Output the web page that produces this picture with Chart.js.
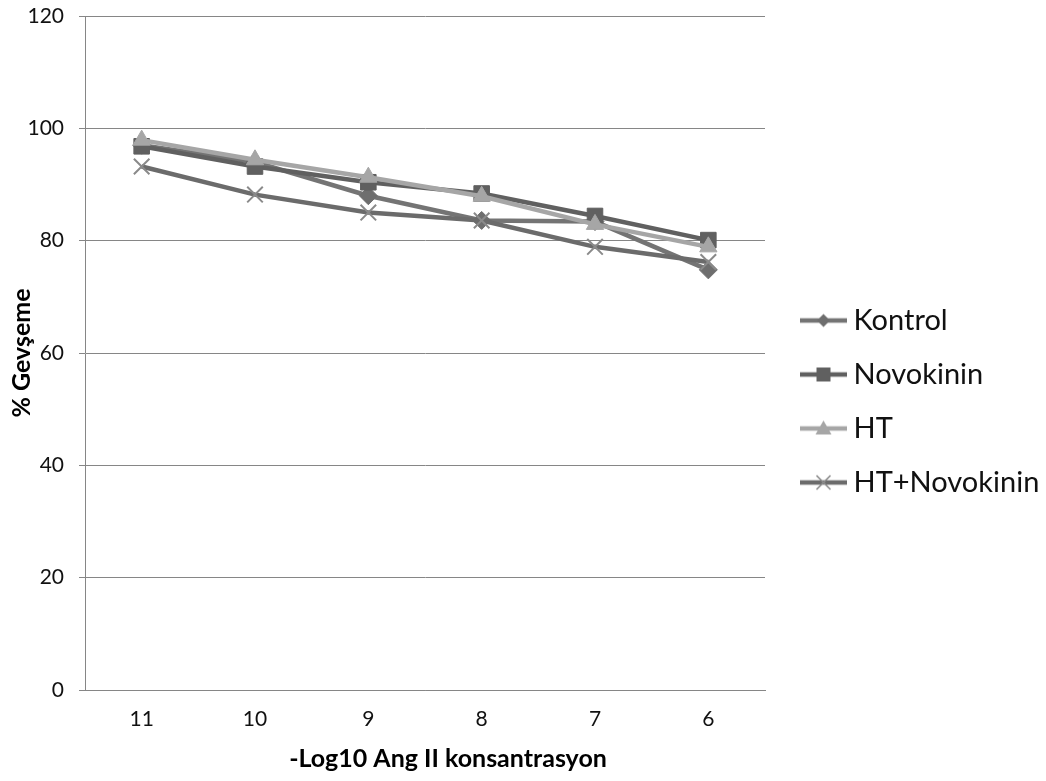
<!DOCTYPE html>
<html>
<head>
<meta charset="utf-8">
<script src="https://cdn.jsdelivr.net/npm/chart.js@4/dist/chart.umd.min.js"></script>
<style>
  html, body { margin: 0; padding: 0; background: #ffffff; }
  canvas { display: block; }
</style>
</head>
<body>
<canvas id="chart" width="1046" height="781"></canvas>
<script>
// -Log10 Ang II concentration steps
const categories = ['11', '10', '9', '8', '7', '6'];

// % relaxation per group
const kontrol      = [97.0, 94.0, 88.0, 83.6, 83.4, 74.8];
const novokinin    = [96.8, 93.2, 90.4, 88.4, 84.4, 80.1];
const ht           = [97.9, 94.4, 91.3, 87.9, 82.9, 78.9];
const htNovokinin  = [93.2, 88.2, 85.0, 83.6, 78.9, 76.2];

const seriesNames = ['Kontrol', 'Novokinin', 'HT', 'HT+Novokinin'];
const yTitle = '% Gevşeme';
const xTitle = '-Log10 Ang II konsantrasyon';

const FONT = 'Lato, "Open Sans", "DejaVu Sans", sans-serif';
const GRID = '#868686';

// line + marker swatch used by the legend
function legendIcon(lineColor, markColor, shape) {
  const c = document.createElement('canvas');
  c.width = 63; c.height = 22;
  const g = c.getContext('2d');
  const cx = 39.5, cy = 11;
  g.strokeStyle = lineColor;
  g.lineWidth = 4.5;
  g.beginPath(); g.moveTo(16, cy); g.lineTo(63, cy); g.stroke();
  g.fillStyle = markColor;
  g.strokeStyle = markColor;
  g.beginPath();
  if (shape === 'diamond') {
    g.moveTo(cx, cy - 6.5); g.lineTo(cx + 6.5, cy); g.lineTo(cx, cy + 6.5); g.lineTo(cx - 6.5, cy);
    g.closePath(); g.fill();
  } else if (shape === 'square') {
    g.rect(cx - 7, cy - 7, 14, 14); g.fill();
  } else if (shape === 'triangle') {
    g.moveTo(cx, cy - 8); g.lineTo(cx + 8, cy + 6); g.lineTo(cx - 8, cy + 6);
    g.closePath(); g.fill();
  } else {
    g.lineWidth = 1.6;
    g.moveTo(cx - 7, cy - 7); g.lineTo(cx + 7, cy + 7);
    g.moveTo(cx + 7, cy - 7); g.lineTo(cx - 7, cy + 7);
    g.stroke();
  }
  return c;
}

const styles = [
  { line: '#747474', mark: '#6e6e6e', point: 'rectRot',  radius: 9,   icon: 'diamond',  order: 3 },
  { line: '#606060', mark: '#606060', point: 'rect',     radius: 11,  icon: 'square',   order: 2 },
  { line: '#a6a6a6', mark: '#a6a6a6', point: 'triangle', radius: 10,  icon: 'triangle', order: 1 },
  { line: '#6b6b6b', mark: '#8a8a8a', point: 'crossRot', radius: 11,  icon: 'cross',    order: 0 }
];
const seriesData = [kontrol, novokinin, ht, htNovokinin];

const datasets = seriesNames.map((name, i) => ({
  label: name,
  data: seriesData[i],
  borderColor: styles[i].line,
  backgroundColor: styles[i].mark,
  borderWidth: 4.5,
  pointStyle: styles[i].point,
  pointRadius: styles[i].radius,
  pointHoverRadius: styles[i].radius,
  pointBackgroundColor: styles[i].mark,
  pointBorderColor: styles[i].mark,
  pointBorderWidth: styles[i].point === 'crossRot' ? 2 : 1,
  tension: 0,
  fill: false,
  order: styles[i].order
}));

// fixed box sizes so the plot area sits where it should
const layoutPlugin = {
  id: 'layoutBoxes',
  beforeLayout(chart) {
    const lg = chart.legend;
    if (lg && !lg._fixedFit) {
      const fit = lg.fit;
      lg.fit = function () { fit.call(this); this.width = 281; };
      lg._fixedFit = true;
    }
  },
  afterLayout(chart) {
    const lg = chart.legend;
    if (lg) {
      lg.left = 767; lg.right = 1046;
      lg.top = 281;  lg.bottom = 781;
    }
  },
  afterDraw(chart) {
    // x-axis title
    const ctx = chart.ctx;
    const t = chart.options.scales.x.title;
    ctx.save();
    ctx.font = 'bold 25px ' + FONT;
    ctx.fillStyle = '#000000';
    ctx.textAlign = 'center';
    ctx.textBaseline = 'middle';
    ctx.fillText(t.text, 448, 759);
    ctx.restore();
  }
};

new Chart(document.getElementById('chart'), {
  type: 'line',
  data: { labels: categories, datasets },
  options: {
    responsive: false,
    animation: false,
    layout: { padding: { top: 16, left: 0, right: 0, bottom: 0 } },
    plugins: {
      tooltip: { enabled: false },
      legend: {
        position: 'right',
        align: 'start',
        labels: {
          usePointStyle: true,
          pointStyleWidth: 47,
          padding: 25,
          color: '#111111',
          font: { family: FONT, size: 29 },
          generateLabels(chart) {
            return chart.data.datasets.map((ds, i) => ({
              text: ds.label,
              fillStyle: styles[i].mark,
              strokeStyle: styles[i].line,
              lineWidth: 0,
              pointStyle: legendIcon(styles[i].line, styles[i].mark, styles[i].icon),
              hidden: false,
              datasetIndex: i,
              fontColor: '#111111'
            }));
          }
        }
      }
    },
    scales: {
      x: {
        type: 'category',
        offset: true,
        grid: { display: false, drawTicks: false },
        border: { display: true, color: GRID, width: 1 },
        ticks: { color: '#111111', padding: 17, font: { family: FONT, size: 21 } },
        title: { display: false, text: xTitle },
        afterFit(scale) { scale.height = 91; }
      },
      y: {
        min: 0,
        max: 120,
        ticks: { stepSize: 20, color: '#111111', padding: 15, font: { family: FONT, size: 21 } },
        grid: { color: GRID, lineWidth: 1, drawTicks: true, tickLength: 6, tickColor: GRID },
        border: { display: true, color: GRID, width: 1 },
        title: {
          display: true,
          text: yTitle,
          color: '#000000',
          font: { family: FONT, size: 25, weight: 'bold' },
          padding: { top: 7, bottom: 0 }
        },
        afterFit(scale) {
          scale.width = 85;
          scale.paddingTop = 0;
          scale.paddingBottom = 0;
        }
      }
    }
  },
  plugins: [layoutPlugin]
});
</script>
</body>
</html>
